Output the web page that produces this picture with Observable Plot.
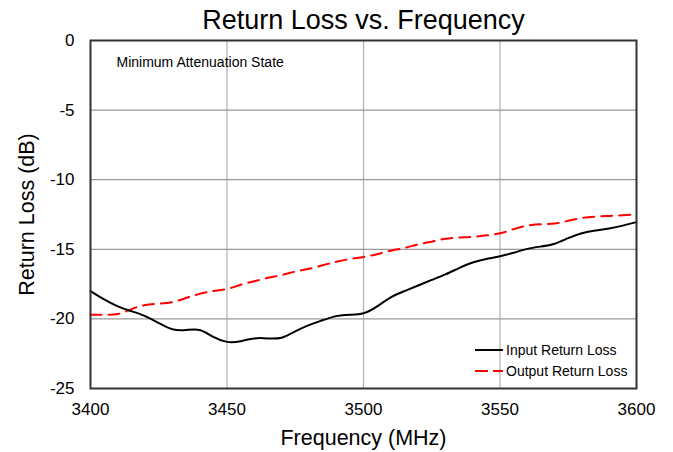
<!DOCTYPE html>
<html>
<head>
<meta charset="utf-8">
<script src="https://cdn.jsdelivr.net/npm/d3@7"></script>
<script src="https://cdn.jsdelivr.net/npm/@observablehq/plot@0.6"></script>
<style>
  html, body { margin: 0; padding: 0; background: #fff; }
  #wrap { position: relative; width: 673px; height: 452px; font-family: "Liberation Sans", Arial, sans-serif; }
  #legend { position: absolute; left: 475px; top: 340px; font-size: 14px; color: #000; line-height: 20.5px; }
  #legend div { display: flex; align-items: center; }
  #legend svg { margin-right: 3px; }
</style>
</head>
<body>
<div id="wrap"></div>
<script>
const freq = [3400,3405,3410,3415,3420,3425,3430,3435,3440,3445,3450,3455,3460,3465,3470,3475,3480,3485,3490,3495,3500,3505,3510,3515,3520,3525,3530,3535,3540,3545,3550,3555,3560,3565,3570,3575,3580,3585,3590,3595,3600];
const inputRL = [-18.0,-18.6,-19.1,-19.45,-19.8,-20.3,-20.75,-20.8,-20.8,-21.3,-21.65,-21.6,-21.4,-21.4,-21.35,-20.9,-20.45,-20.1,-19.8,-19.7,-19.6,-19.1,-18.45,-18.0,-17.6,-17.2,-16.8,-16.35,-15.95,-15.7,-15.5,-15.25,-14.97,-14.8,-14.6,-14.2,-13.85,-13.65,-13.5,-13.3,-13.05];
const outputRL = [-19.7,-19.7,-19.65,-19.3,-19.0,-18.9,-18.8,-18.5,-18.2,-18.0,-17.85,-17.55,-17.3,-17.05,-16.85,-16.6,-16.4,-16.15,-15.9,-15.7,-15.55,-15.35,-15.1,-14.9,-14.65,-14.45,-14.25,-14.15,-14.1,-14.0,-13.85,-13.55,-13.3,-13.2,-13.15,-12.95,-12.75,-12.65,-12.6,-12.55,-12.5];
const xTicks = [3400,3450,3500,3550,3600];
const yTicks = [0,-5,-10,-15,-20,-25];
const seriesNames = ["Input Return Loss","Output Return Loss"];
const title = "Return Loss vs. Frequency";
const note = "Minimum Attenuation State";

const inData = freq.map((f,i) => ({f, v: inputRL[i]}));
const outData = freq.map((f,i) => ({f, v: outputRL[i]}));

const chart = Plot.plot({
  width: 673,
  height: 452,
  marginLeft: 90,
  marginRight: 37,
  marginTop: 40,
  marginBottom: 64,
  style: { fontFamily: "Liberation Sans, Arial, sans-serif", background: "#fff" },
  x: { domain: [3400, 3600], ticks: xTicks, tickFormat: d => String(d), tickSize: 0, label: null },
  y: { domain: [-25, 0], ticks: yTicks, tickFormat: d => String(d), tickSize: 0, label: null },
  marks: [
    Plot.gridX(xTicks.slice(1, -1), { stroke: "#b0b0b0", strokeOpacity: 1, strokeWidth: 1.2 }),
    Plot.gridY(yTicks.slice(1, -1), { stroke: "#999", strokeOpacity: 1, strokeWidth: 1.2 }),
    Plot.axisX({ ticks: xTicks, tickFormat: d => String(d), tickSize: 0, tickPadding: 14, fontSize: 17, label: null }),
    Plot.axisY({ ticks: yTicks, tickFormat: d => String(d), tickSize: 0, tickPadding: 16, fontSize: 17, label: null }),
    Plot.text([ "Frequency (MHz)" ], { frameAnchor: "bottom", lineAnchor: "middle", dy: 50, fontSize: 21.5, text: d => d }),
    Plot.text([ "Return Loss (dB)" ], { frameAnchor: "left", textAnchor: "middle", lineAnchor: "middle", dx: -63, rotate: -90, fontSize: 21.5, text: d => d }),
    Plot.text([ title ], { frameAnchor: "top", lineAnchor: "middle", dy: -20, fontSize: 27, text: d => d }),
    Plot.text([ note ], { frameAnchor: "top-left", lineAnchor: "middle", dx: 26, dy: 22, fontSize: 14, textAnchor: "start", text: d => d }),
    Plot.line(outData, { x: "f", y: "v", stroke: "#ff0000", strokeWidth: 2, strokeDasharray: "11,7", curve: "natural" }),
    Plot.line(inData, { x: "f", y: "v", stroke: "#000", strokeWidth: 2, curve: "natural" }),
    Plot.frame({ stroke: "#333", strokeWidth: 2 })
  ]
});
document.getElementById("wrap").appendChild(chart);

const legend = document.createElement("div");
legend.id = "legend";
const styles = [{ stroke: "#000", dash: "" }, { stroke: "#ff0000", dash: "13,5" }];
seriesNames.forEach((name, i) => {
  const row = document.createElement("div");
  row.innerHTML = `<svg width="28" height="10"><line x1="0" y1="5" x2="28" y2="5" stroke="${styles[i].stroke}" stroke-width="2" stroke-dasharray="${styles[i].dash}"/></svg><span>${name}</span>`;
  legend.appendChild(row);
});
document.getElementById("wrap").appendChild(legend);
</script>
</body>
</html>
